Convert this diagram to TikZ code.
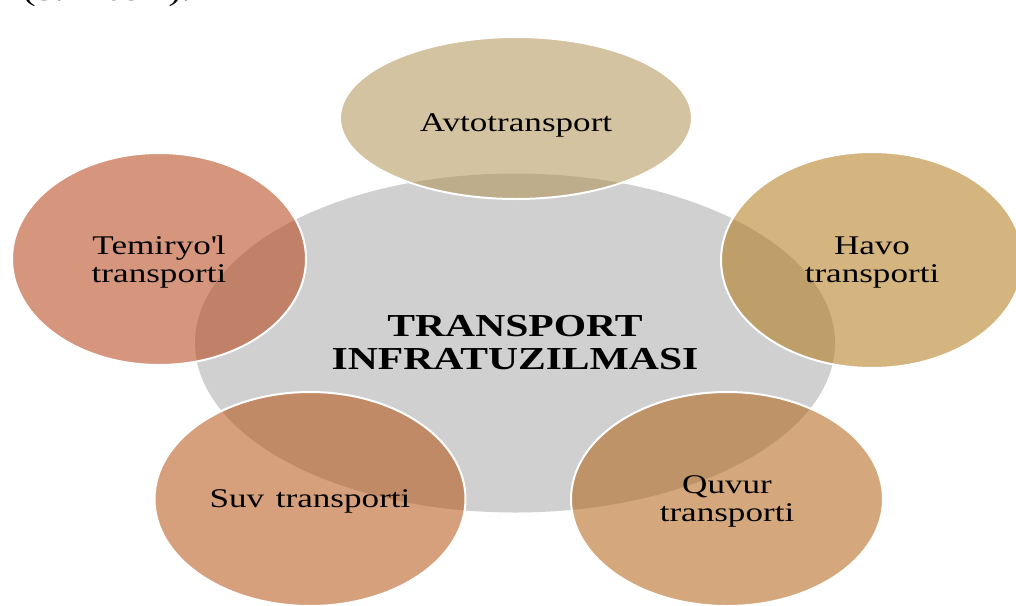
\documentclass[tikz,border=0pt]{standalone}
\usepackage{fontspec}
\setmainfont{Liberation Serif}[FakeStretch=1.3]
\usepackage{tikz}
\usetikzlibrary{shapes.geometric}

\definecolor{hubgray}{RGB}{208,208,208}
\definecolor{avtocol}{RGB}{177,146,82}
\definecolor{temircol}{RGB}{181,64,19}
\definecolor{havocol}{RGB}{177,119,21}
\definecolor{quvurcol}{RGB}{177,97,17}
\definecolor{suvcol}{RGB}{181,82,17}

\begin{document}
\begin{tikzpicture}[x=1pt,y=-1pt]
	\tikzstyle{every blob}=[ellipse, inner sep=0pt, align=center, text=black,
	                        font=\fontsize{27}{28}\selectfont]
	\tikzstyle{blob}=[every blob, draw=white, line width=2pt, text depth=0pt,
	                  fill opacity=0.55, text opacity=1]

	\useasboundingbox (0,0) rectangle (1016,605);

	% text cut off at the top edge
	\node[anchor=base west, inner sep=0pt, font=\fontsize{29}{29}\selectfont]
	      (caption) at (23,1) {(3.1-rasm).};

	\node[every blob, fill=hubgray, minimum width=640pt, minimum height=339pt,
	      font=\bfseries\fontsize{32}{33}\selectfont]
	      (hub) at (515,343) {TRANSPORT\\INFRATUZILMASI};

	\node[blob, fill=avtocol,  minimum width=352pt, minimum height=162pt, text height=27pt] (avto) at (516,118) {Avtotransport};
	\node[blob, fill=havocol,  minimum width=302pt, minimum height=216pt] (havo)  at (872,260) {Havo\\transporti};
	\node[blob, fill=temircol, minimum width=294pt, minimum height=212pt] (temir) at (159,259) {Temiryo\textquotesingle l\\transporti};
	\node[blob, fill=suvcol,   minimum width=311pt, minimum height=214pt] (suv)   at (310,499) {Suv\hspace{3pt} transporti};
	\node[blob, fill=quvurcol, minimum width=312pt, minimum height=214pt] (quvur) at (727,499) {Quvur\\transporti};
\end{tikzpicture}
\end{document}
